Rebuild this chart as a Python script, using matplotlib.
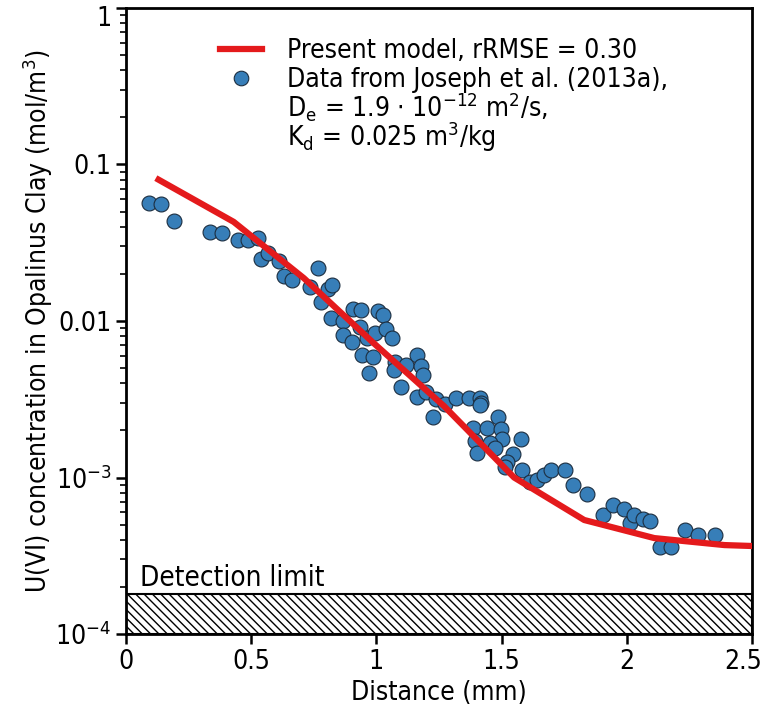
import numpy as np
import matplotlib
matplotlib.use("Agg")
import matplotlib.pyplot as plt
import matplotlib.transforms as mtransforms
from matplotlib.lines import Line2D
from matplotlib.ticker import FixedLocator, FixedFormatter, LogLocator, NullFormatter

# === DATA ===
# model curve (distance in mm, concentration in mol/m3)
model_x = [0.13, 0.43, 0.71, 0.99, 1.27, 1.55, 1.83, 2.11, 2.39, 2.50]
model_y = [0.080, 0.043, 0.0188, 0.0072, 0.00286, 0.00100, 0.000535, 0.00041, 0.00037, 0.000365]

# measured profile, Joseph et al. (2013a)
data_x = [0.093, 0.140, 0.193, 0.335, 0.384, 0.446, 0.486, 0.528, 0.539, 0.568,
          0.612, 0.631, 0.662, 0.736, 0.768, 0.777, 0.807, 0.824, 0.817, 0.865,
          0.908, 0.938, 0.866, 0.901, 0.934, 0.962, 1.005, 1.026, 0.996, 1.038,
          1.064, 0.944, 0.986, 0.971, 1.074, 1.069, 1.118, 1.161, 1.177, 1.187,
          1.098, 1.161, 1.200, 1.237, 1.273, 1.226, 1.317, 1.370, 1.414, 1.418,
          1.414, 1.484, 1.384, 1.440, 1.496, 1.502, 1.576, 1.394, 1.403, 1.454,
          1.474, 1.547, 1.520, 1.514, 1.580, 1.615, 1.640, 1.670, 1.696, 1.753,
          1.784, 1.840, 1.903, 1.946, 2.013, 1.990, 2.030, 2.066, 2.093, 2.133,
          2.176, 2.234, 2.286, 2.352]
data_y = [0.0567, 0.0559, 0.0438, 0.0371, 0.0364, 0.0330, 0.0327, 0.0340, 0.0250, 0.0272,
          0.0243, 0.0195, 0.0183, 0.0165, 0.0218, 0.0133, 0.0160, 0.0171, 0.0104, 0.0100,
          0.0120, 0.0118, 0.00812, 0.00730, 0.00915, 0.00780, 0.0116, 0.0109, 0.00840, 0.00885,
          0.00775, 0.00602, 0.00590, 0.00464, 0.00548, 0.00483, 0.00520, 0.00603, 0.00518, 0.00455,
          0.00378, 0.00327, 0.00353, 0.00317, 0.00297, 0.00245, 0.00324, 0.00320, 0.00320, 0.00300,
          0.00290, 0.00242, 0.00206, 0.00208, 0.00205, 0.00175, 0.00175, 0.00171, 0.00143, 0.00165,
          0.00155, 0.00141, 0.00126, 0.00117, 0.00112, 0.00094, 0.00097, 0.00104, 0.00111, 0.00112,
          0.00090, 0.00078, 0.00058, 0.00067, 0.00051, 0.00063, 0.00058, 0.00054, 0.00053, 0.00036,
          0.00036, 0.00046, 0.00043, 0.00043]

detect_limit = 1.8e-4

x_ticks = [0, 0.5, 1, 1.5, 2, 2.5]
x_ticklabels = ["0", "0.5", "1", "1.5", "2", "2.5"]
y_ticks = [1e-4, 1e-3, 1e-2, 1e-1, 1]
y_ticklabels = ["$10^{-4}$", "$10^{-3}$", "0.01", "0.1", "1"]

model_label = "Present model, rRMSE = 0.30"
data_label = "Data from Joseph et al. (2013a),"
data_extra = ["D$_\\mathrm{e}$ = 1.9 $\\cdot$ 10$^{-12}$ m$^2$/s,",
              "K$_\\mathrm{d}$ = 0.025 m$^3$/kg"]

# === PLOT ===
plt.rcParams["font.family"] = "DejaVu Sans"
plt.rcParams["font.stretch"] = "condensed"
plt.rcParams["mathtext.fontset"] = "dejavusans"

fs = 19

fig = plt.figure(figsize=(7.63, 7.11), dpi=100)
ax = fig.add_axes([126 / 763, 1 - 634 / 711, (752 - 126) / 763, (634 - 8) / 711])

ax.fill_between([0, 2.5], 1e-4, detect_limit, facecolor="white", edgecolor="black",
                hatch="\\\\\\\\", linewidth=1.5, zorder=1)
ax.text(0.055, detect_limit * 1.03, "Detection limit", fontsize=20, va="bottom", ha="left")

ax.plot(model_x, model_y, color="#e41a1c", linewidth=4.5, zorder=3)
ax.scatter(data_x, data_y, s=115, color="#377eb8", edgecolor="#1c2e40", linewidth=0.8,
           zorder=2)

ax.set_yscale("log")
ax.set_xlim(0, 2.5)
ax.set_ylim(1e-4, 1)

ax.xaxis.set_major_locator(FixedLocator(x_ticks))
ax.xaxis.set_major_formatter(FixedFormatter(x_ticklabels))
ax.yaxis.set_major_locator(FixedLocator(y_ticks))
ax.yaxis.set_major_formatter(FixedFormatter(y_ticklabels))
ax.yaxis.set_minor_locator(LogLocator(base=10, subs=np.arange(2, 10), numticks=20))
ax.yaxis.set_minor_formatter(NullFormatter())

ax.tick_params(axis="both", which="major", direction="out", length=7, width=1.8,
               labelsize=fs, top=False, right=False)
ax.tick_params(axis="y", which="minor", direction="out", length=4, width=1.2, right=False)

for sp in ax.spines.values():
    sp.set_linewidth(2)

ax.set_xlabel("Distance (mm)", fontsize=fs)
ax.set_ylabel("U(VI) concentration in Opalinus Clay (mol/m$^3$)", fontsize=fs, labelpad=0)

# edge labels would be clipped by the figure border, nudge them inwards
fig.canvas.draw()
last = ax.get_xticklabels()[-1]
last.set_transform(last.get_transform() + mtransforms.ScaledTranslation(-9 / 100, 0, fig.dpi_scale_trans))
top = ax.get_yticklabels()[-1]
top.set_transform(top.get_transform() + mtransforms.ScaledTranslation(0, -8 / 100, fig.dpi_scale_trans))

# legend: marker only on the first line of the data entry, the rest as plain text
handles = [Line2D([], [], color="#e41a1c", linewidth=4.5),
           Line2D([], [], linestyle="none", marker="o", markersize=10.5,
                  markerfacecolor="#377eb8", markeredgecolor="#1c2e40", markeredgewidth=0.8)]
ax.legend(handles, [model_label, data_label], loc="upper left", bbox_to_anchor=(0.112, 0.99),
          frameon=False, fontsize=fs, handlelength=1.6, labelspacing=0.12, handletextpad=0.95)
ax.text(0.257, 0.843, data_extra[0], transform=ax.transAxes, fontsize=fs, va="center", ha="left")
ax.text(0.257, 0.795, data_extra[1], transform=ax.transAxes, fontsize=fs, va="center", ha="left")

fig.savefig("out.png", dpi=100)
